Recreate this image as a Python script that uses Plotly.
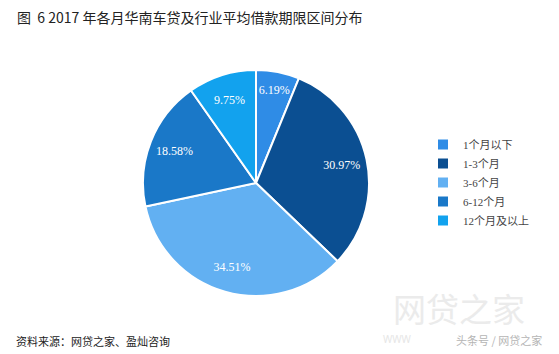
import plotly.graph_objects as go

labels = ["1个月以下", "1-3个月", "3-6个月", "6-12个月", "12个月及以上"]
values = [6.19, 30.97, 34.51, 18.58, 9.75]
text_labels = ["6.19%", "30.97%", "34.51%", "18.58%", "9.75%"]
colors = ["#2f8ce6", "#0b4f92", "#62b0f2", "#1a78c8", "#12a2ee"]

W, H = 559, 354
cx, cy, r = 256, 183, 113
dom = dict(x=[(cx - r) / W, (cx + r) / W], y=[(H - cy - r) / H, (H - cy + r) / H])

fig = go.Figure()
fig.add_trace(go.Pie(
    labels=labels,
    values=values,
    textinfo="none",
    sort=False,
    direction="clockwise",
    rotation=0,
    marker=dict(colors=colors, line=dict(color="white", width=2)),
    domain=dom,
    hoverinfo="label+percent",
))
# transparent ring used only to place the labels further out
fig.add_trace(go.Pie(
    labels=labels,
    values=values,
    text=text_labels,
    textinfo="text",
    textposition="inside",
    insidetextorientation="horizontal",
    hole=0.55,
    sort=False,
    direction="clockwise",
    rotation=0,
    showlegend=False,
    marker=dict(colors=["rgba(0,0,0,0)"] * len(values), line=dict(width=0)),
    textfont=dict(family="Liberation Serif", size=12, color="white"),
    domain=dom,
    hoverinfo="skip",
))

fig.update_layout(
    width=W, height=H,
    margin=dict(l=0, r=0, t=0, b=0),
    paper_bgcolor="white",
    plot_bgcolor="white",
    showlegend=True,
    legend=dict(
        x=423 / W, y=1 - 130 / H, xanchor="left", yanchor="top",
        font=dict(family="Liberation Serif, Noto Sans CJK SC", size=11, color="#444"),
        itemwidth=30, tracegroupgap=0, bgcolor="rgba(0,0,0,0)",
    ),
    uniformtext=dict(minsize=11, mode="show"),
    annotations=[
        dict(text="图&nbsp;&nbsp;6 2017 年各月华南车贷及行业平均借款期限区间分布", x=15 / W, y=1 - 17 / H,
             xref="paper", yref="paper", xanchor="left", yanchor="middle", showarrow=False,
             font=dict(family="Noto Sans CJK SC", size=14, color="#222")),
        dict(text="资料来源：网贷之家、盈灿咨询", x=14 / W, y=1 - 341 / H,
             xref="paper", yref="paper", xanchor="left", yanchor="middle", showarrow=False,
             font=dict(family="Noto Sans CJK SC", size=11, color="#222")),
        dict(text="网贷之家", x=459 / W, y=1 - 308 / H,
             xref="paper", yref="paper", xanchor="center", yanchor="middle", showarrow=False,
             font=dict(family="Noto Sans CJK SC", size=33, color="#ebebeb")),
        dict(text="WWW", x=397 / W, y=1 - 339 / H,
             xref="paper", yref="paper", xanchor="center", yanchor="middle", showarrow=False,
             font=dict(family="Noto Sans", size=10, color="#e6e6e6")),
        dict(text="头条号 / 网贷之家", x=499 / W, y=1 - 340 / H,
             xref="paper", yref="paper", xanchor="center", yanchor="middle", showarrow=False,
             font=dict(family="Noto Sans CJK SC", size=11, color="#b5b5b5")),
    ],
)

fig.write_html("out.html")
